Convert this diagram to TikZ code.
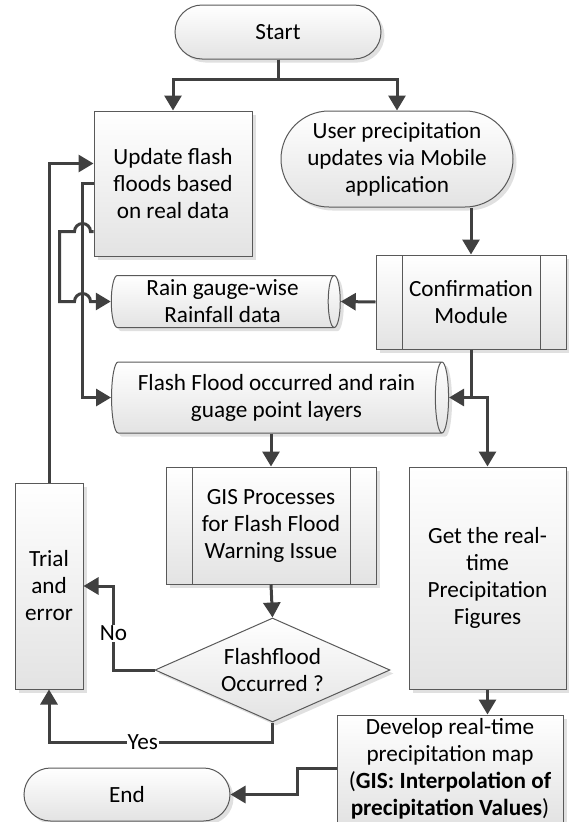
\documentclass[tikz,border=0pt]{standalone}
\usepackage{fontspec}
\setmainfont{Carlito}
\usetikzlibrary{arrows.meta,shapes.geometric,shapes.misc,shadows}
\definecolor{edgegray}{HTML}{595959}
\definecolor{flowgray}{HTML}{404040}
\tikzset{
  base/.style={draw=edgegray, line width=1pt, top color=white, bottom color=black!11,
    general shadow={fill=black!12, shadow xshift=3.5pt, shadow yshift=-3.5pt},
    align=center, inner sep=2pt, font=\fontsize{23.2}{27}\selectfont},
  process/.style={base, rectangle},
  terminal/.style={base, rounded rectangle},
  predef/.style={base, rectangle,
    path picture={
      \draw[edgegray, line width=1pt] ([xshift=26pt]path picture bounding box.north west) -- ([xshift=26pt]path picture bounding box.south west);
      \draw[edgegray, line width=1pt] ([xshift=-26pt]path picture bounding box.north east) -- ([xshift=-26pt]path picture bounding box.south east);
    }},
  store/.style={base, cylinder, shape aspect=0.28, inner sep=0pt},
  decision/.style={base, diamond, aspect=2.26, inner sep=0pt},
  link/.style={draw=flowgray, line width=3pt},
  flow/.style={link, -{Triangle[length=15pt,width=17pt]}},
  tag/.style={fill=white, inner sep=1pt, font=\fontsize{23.2}{27}\selectfont}
}
\begin{document}
\begin{tikzpicture}[x=1pt,y=-1pt]
  \useasboundingbox (0,0) rectangle (569,822);
  \node[terminal, minimum width=210pt, minimum height=54pt] (start) at (278,32) {Start};
  \node[process, minimum width=158pt, minimum height=145pt] (upd) at (173,183.5) {Update flash\\floods based\\on real data};
  \node[terminal, minimum width=236pt, minimum height=96pt] (user) at (397,159) {User precipitation\\updates via Mobile\\application};
  \node[predef, minimum width=190pt, minimum height=94pt] (conf) at (471,302) {Confirmation\\Module};
  \node[store, minimum width=52pt, minimum height=229pt] (rain) at (222.5,301.5) {Rain gauge-wise\\Rainfall data};
  \node[store, minimum width=71pt, minimum height=337pt] (layers) at (276.5,397.5) {Flash Flood occurred and rain\\guage point layers};
  \node[predef, minimum width=210pt, minimum height=117pt] (gis) at (271,525.5) {GIS Processes\\for Flash Flood\\Warning Issue};
  \node[decision, minimum width=235pt, minimum height=104pt] (dec) at (272.5,670) {Flashflood\\Occurred ?};
  \node[process, minimum width=68pt, minimum height=206pt, inner sep=0pt] (trial) at (49,586) {Trial\\and\\error};
  \node[process, minimum width=157pt, minimum height=222pt] (getfig) at (487.5,578) {Get the real-\\time\\Precipitation\\Figures};
  \node[process, minimum width=226pt, minimum height=107pt, inner sep=0pt] (devmap) at (450,768.5) {Develop real-time\\precipitation map\\(\textbf{GIS: Interpolation of}\\\textbf{precipitation Values})};
  \node[terminal, minimum width=210pt, minimum height=53pt] (stop) at (127,794.5) {End};
  \draw[flow] (start.south) -- ++(0,20) -| (upd.north);
  \draw[flow] (start.south) -- ++(0,20) -| (user.north);
  \draw[flow] (user.south -| conf.north) -- (conf.north);
  \draw[flow] (conf.west) -- (rain.east);
  \draw[flow] (conf.south) |- (layers.east);
  \draw[flow] (conf.south) -- (conf.south |- layers.east) -| (getfig.north);
  \draw[flow] (gis.north |- layers.south) -- (gis.north);
  \draw[flow] (gis.south) -- (dec.north);
  \draw[flow] (dec.west) -- ++(-41,0) |- (trial.east) node[tag, pos=0.22] {No};
  \draw[flow] (dec.south) -- ++(0,20) -| (trial.south) node[tag, pos=0.29] {Yes};
  \draw[flow] (trial.north) |- ([yshift=20pt]upd.west);
  \draw[flow] (upd.west) -- ++(-11,0) |- (layers.west);
  \draw[flow] ([yshift=-48pt]upd.west) -- ++(-3,0) arc[start angle=0, end angle=180, radius=8pt] -- ++(-15,0) -- ++(0,70) -- ++(15,0) arc[start angle=180, end angle=0, radius=8pt] -- (rain.west);
  \draw[flow] (getfig.south) -- (getfig.south |- devmap.north);
  \draw[flow] (devmap.west) -- ++(-39,0) |- (stop.east);
\end{tikzpicture}
\end{document}
